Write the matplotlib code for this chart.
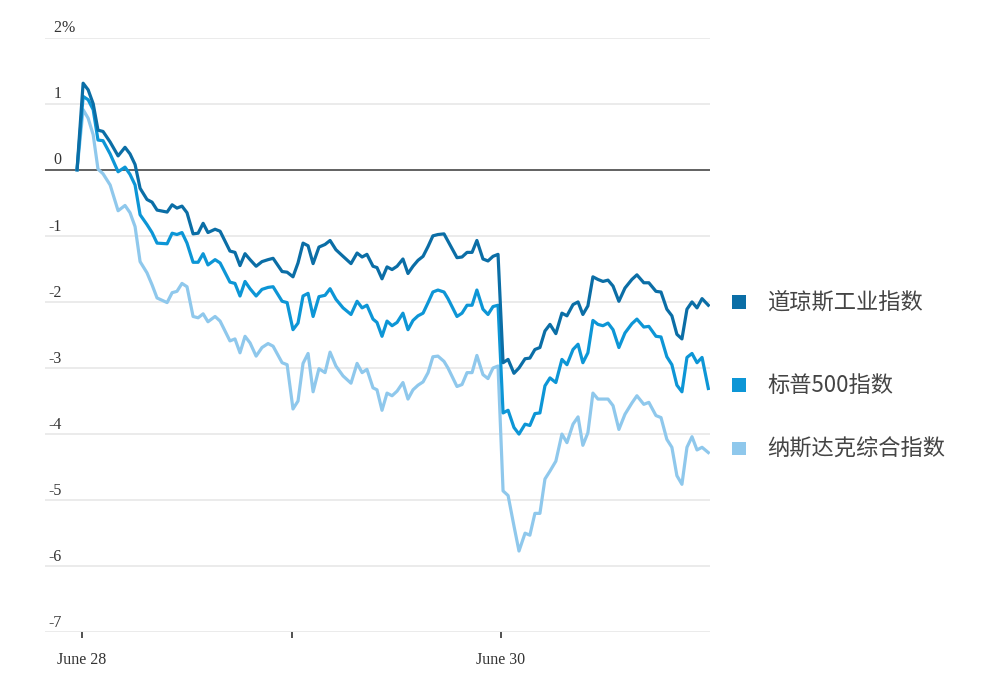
import numpy as np
import matplotlib.pyplot as plt
from matplotlib.patches import Rectangle
from matplotlib.transforms import blended_transform_factory

# time in trading days after June 28 open (0 = June 28, 1 = June 29, 2 = June 30)
t = [-0.024, 0.005, 0.029, 0.053, 0.076, 0.100, 0.134, 0.172, 0.205, 0.229,
     0.253, 0.277, 0.310, 0.334, 0.358, 0.406, 0.430, 0.453, 0.477, 0.501,
     0.530, 0.554, 0.578, 0.601, 0.635, 0.659, 0.706, 0.730, 0.754, 0.778,
     0.802, 0.831, 0.859, 0.888, 0.912, 0.955, 0.979, 1.007, 1.031, 1.055,
     1.079, 1.103, 1.131, 1.160, 1.184, 1.212, 1.246, 1.284, 1.313, 1.337,
     1.360, 1.389, 1.408, 1.432, 1.456, 1.480, 1.504, 1.532, 1.556, 1.580,
     1.604, 1.628, 1.652, 1.675, 1.699, 1.728, 1.747, 1.790, 1.814, 1.838,
     1.862, 1.885, 1.914, 1.938, 1.962, 1.986, 2.010, 2.034, 2.062, 2.086,
     2.115, 2.138, 2.162, 2.186, 2.210, 2.234, 2.262, 2.291, 2.315, 2.344,
     2.368, 2.391, 2.415, 2.439, 2.463, 2.487, 2.511, 2.535, 2.563, 2.592,
     2.625, 2.649, 2.682, 2.706, 2.740, 2.764, 2.792, 2.816, 2.840, 2.864,
     2.888, 2.912, 2.936, 2.960, 2.990]

dow = [0, 1.31, 1.21, 1.00, 0.60, 0.58, 0.42, 0.21, 0.34, 0.24,
       0.08, -0.28, -0.45, -0.49, -0.61, -0.64, -0.53, -0.58, -0.55, -0.65,
       -0.97, -0.96, -0.81, -0.95, -0.90, -0.93, -1.23, -1.25, -1.45, -1.27,
       -1.36, -1.46, -1.39, -1.36, -1.34, -1.54, -1.55, -1.62, -1.41, -1.11,
       -1.15, -1.42, -1.17, -1.13, -1.07, -1.21, -1.31, -1.42, -1.26, -1.32,
       -1.28, -1.46, -1.48, -1.65, -1.47, -1.51, -1.46, -1.35, -1.57, -1.46,
       -1.37, -1.31, -1.16, -1.00, -0.98, -0.97, -1.08, -1.33, -1.32, -1.25,
       -1.25, -1.07, -1.35, -1.38, -1.31, -1.28, -2.92, -2.87, -3.08, -3.00,
       -2.86, -2.85, -2.72, -2.69, -2.44, -2.34, -2.48, -2.17, -2.21, -2.04,
       -2.00, -2.19, -2.06, -1.62, -1.66, -1.69, -1.67, -1.76, -1.99, -1.79,
       -1.66, -1.59, -1.71, -1.71, -1.84, -1.85, -2.11, -2.21, -2.49, -2.56,
       -2.11, -2.00, -2.09, -1.95, -2.05]

sp500 = [0, 1.11, 1.06, 0.91, 0.45, 0.44, 0.24, -0.03, 0.04, -0.07,
         -0.23, -0.68, -0.83, -0.95, -1.11, -1.12, -0.96, -0.98, -0.95, -1.11,
         -1.40, -1.40, -1.27, -1.44, -1.36, -1.41, -1.70, -1.72, -1.91, -1.69,
         -1.80, -1.91, -1.81, -1.78, -1.77, -1.99, -2.01, -2.42, -2.32, -1.91,
         -1.87, -2.22, -1.92, -1.90, -1.80, -1.96, -2.09, -2.19, -1.99, -2.09,
         -2.05, -2.26, -2.31, -2.52, -2.29, -2.36, -2.31, -2.17, -2.42, -2.28,
         -2.21, -2.17, -2.01, -1.85, -1.82, -1.85, -1.95, -2.22, -2.17, -2.05,
         -2.05, -1.82, -2.11, -2.19, -2.07, -2.05, -3.68, -3.64, -3.90, -4.00,
         -3.85, -3.87, -3.69, -3.68, -3.27, -3.15, -3.22, -2.87, -2.95, -2.72,
         -2.64, -2.92, -2.77, -2.28, -2.34, -2.36, -2.32, -2.42, -2.69, -2.47,
         -2.33, -2.26, -2.38, -2.37, -2.52, -2.53, -2.83, -2.95, -3.26, -3.36,
         -2.84, -2.78, -2.92, -2.84, -3.31]

nasdaq = [0, 0.91, 0.78, 0.53, 0.01, -0.06, -0.23, -0.62, -0.54, -0.65,
          -0.86, -1.39, -1.56, -1.74, -1.94, -2.01, -1.86, -1.84, -1.72, -1.77,
          -2.22, -2.24, -2.18, -2.30, -2.22, -2.29, -2.59, -2.56, -2.77, -2.52,
          -2.62, -2.82, -2.69, -2.63, -2.67, -2.92, -2.95, -3.62, -3.50, -2.93,
          -2.78, -3.36, -3.01, -3.07, -2.76, -2.97, -3.12, -3.23, -2.93, -3.07,
          -3.02, -3.30, -3.33, -3.64, -3.38, -3.42, -3.35, -3.22, -3.47, -3.33,
          -3.26, -3.21, -3.07, -2.83, -2.82, -2.90, -3.00, -3.28, -3.25, -3.07,
          -3.07, -2.81, -3.10, -3.16, -3.00, -2.97, -4.86, -4.93, -5.39, -5.77,
          -5.50, -5.53, -5.20, -5.20, -4.68, -4.56, -4.41, -4.00, -4.13, -3.85,
          -3.74, -4.17, -3.98, -3.38, -3.47, -3.47, -3.47, -3.57, -3.93, -3.70,
          -3.53, -3.42, -3.55, -3.52, -3.72, -3.75, -4.08, -4.20, -4.63, -4.76,
          -4.20, -4.04, -4.24, -4.20, -4.28]

names = ['道琼斯工业指数', '标普500指数', '纳斯达克综合指数']
colors = ['#0b6ea6', '#0d96d6', '#8fc8ec']
yticks = [2, 1, 0, -1, -2, -3, -4, -5, -6, -7]
xticks = [0, 1, 2]
xlabels = ['June 28', '', 'June 30']

fig = plt.figure(figsize=(10, 6.78), dpi=100)
ax = fig.add_axes([0.045, 0.0674, 0.665, 0.8771])

for v in yticks:
    if v == 0:
        ax.axhline(v, color='#555555', lw=1.3, zorder=1)
    else:
        ax.axhline(v, color='#e8e8e8', lw=1.2, zorder=0)

for series, c in zip([nasdaq, sp500, dow], colors[::-1]):
    ax.plot(t, series, color=c, lw=2.3, solid_joinstyle='round', zorder=3)

ax.set_xlim(-0.177, 2.998)
ax.set_ylim(-7, 2)
for s in ax.spines.values():
    s.set_visible(False)
ax.set_yticks([])
ax.set_xticks(xticks)
ax.set_xticklabels(xlabels, family='Liberation Serif', fontsize=11.5, color='#333333')
ax.tick_params(axis='x', length=4, width=1.2, color='#333333', pad=10, direction='out')

trans = blended_transform_factory(ax.transAxes, ax.transData)
for v in yticks:
    lab = '%d' % v
    ax.text(0.0245, v + 0.02, lab, transform=trans, ha='right', va='bottom',
            family='Liberation Serif', fontsize=11.5, color='#333333')
ax.text(0.0245, 2.02, '%', transform=trans, ha='left', va='bottom',
        family='Liberation Serif', fontsize=11.5, color='#333333')

leg_y = [0.554, 0.432, 0.338]
for name, c, y in zip(names, colors, leg_y):
    fig.add_artist(Rectangle((0.732, y - 0.0095), 0.0135, 0.02, transform=fig.transFigure,
                             facecolor=c, edgecolor='none'))
    fig.text(0.767, y, name, ha='left', va='center', fontsize=16,
             family=['Noto Sans CJK SC', 'DejaVu Sans'], color='#444444')

fig.savefig('out.png', dpi=100)
